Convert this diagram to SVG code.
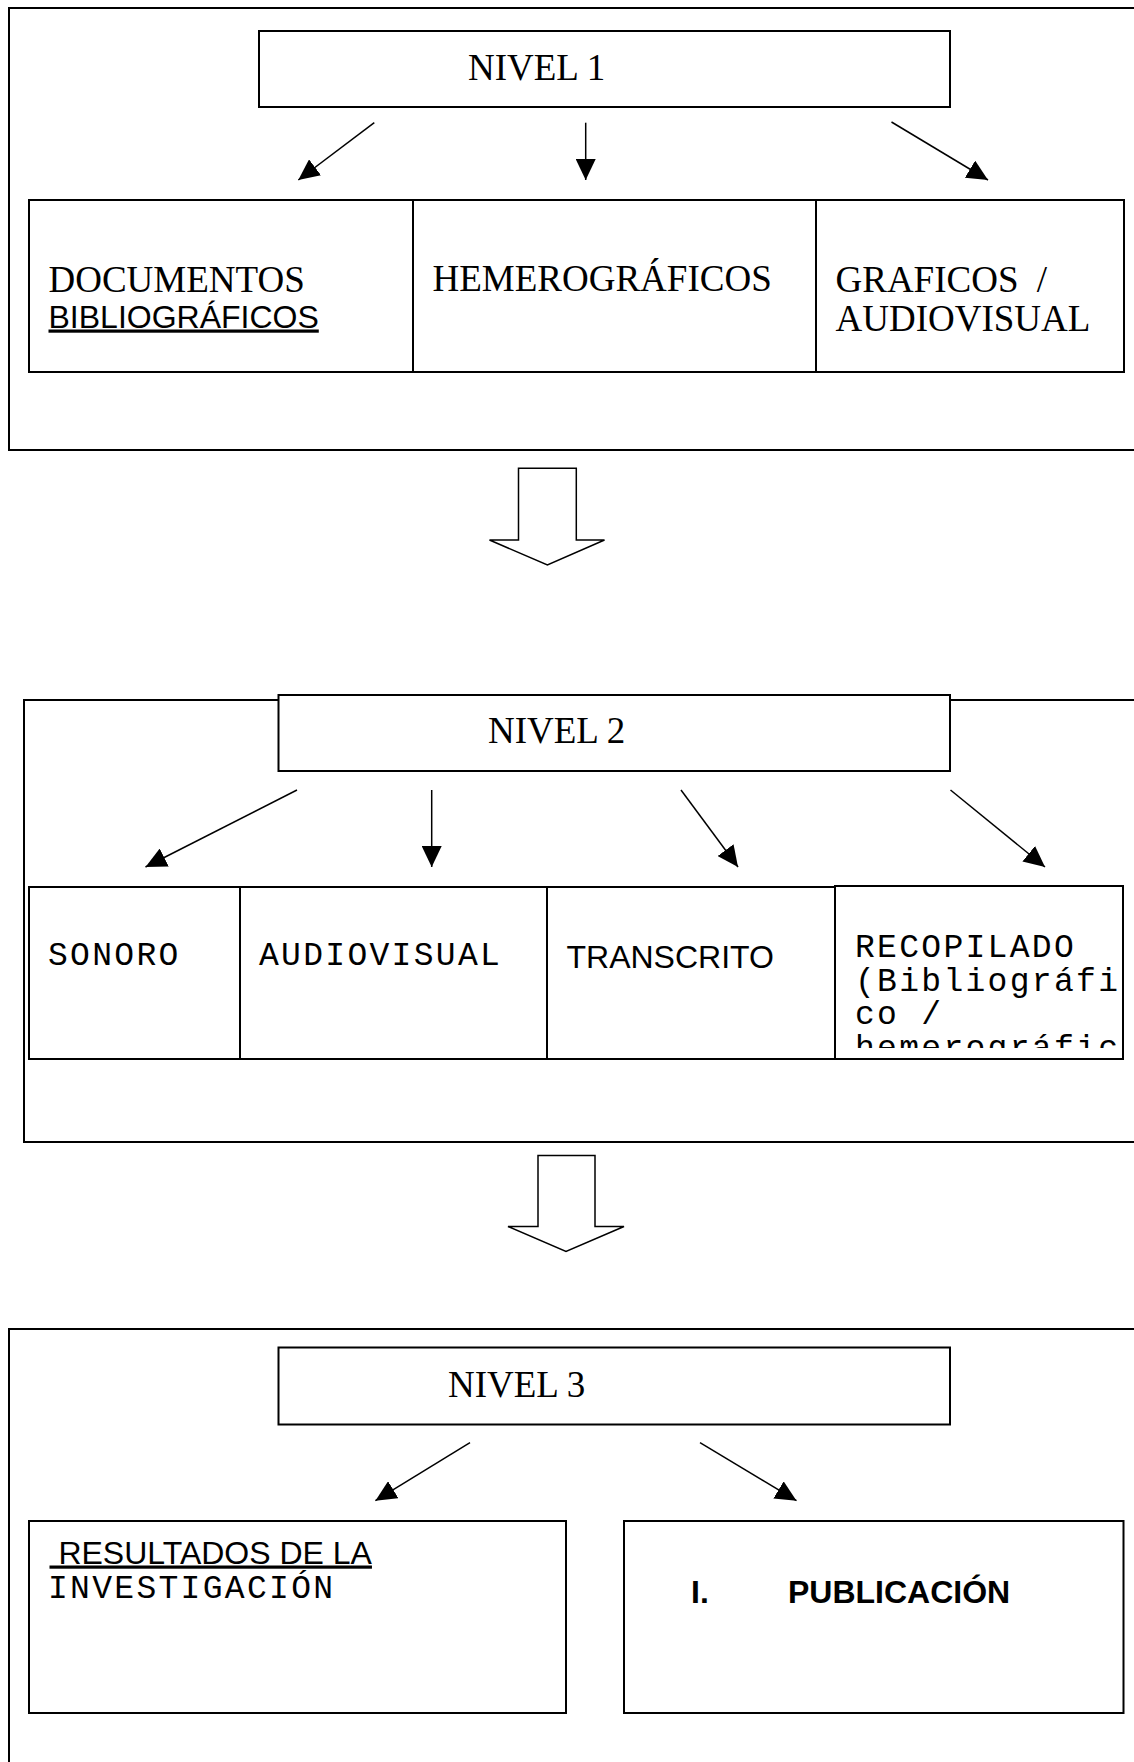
<svg xmlns="http://www.w3.org/2000/svg" width="1134" height="1762" viewBox="0 0 1134 1762">
<style>
  .panel { fill: none; stroke: #000; stroke-width: 2; }
  .box { fill: #fff; stroke: #000; stroke-width: 2; }
  .conn { stroke: #000; stroke-width: 1.5; fill: none; }
  .big { fill: #fff; stroke: #000; stroke-width: 1.5; stroke-linejoin: miter; }
  .serif { font-family: "Liberation Serif", "Times New Roman", serif; font-size: 37px; fill: #000; }
  .sans { font-family: "Liberation Sans", Arial, sans-serif; font-size: 32px; fill: #000; }
  .sansb { font-family: "Liberation Sans", Arial, sans-serif; font-size: 32px; font-weight: bold; fill: #000; }
  .mono { font-family: "Liberation Mono", "Courier New", monospace; font-size: 33px; letter-spacing: 2.3px; fill: #000; }
  .ul { text-decoration: underline; }
</style>
<defs>
  <marker id="ah" markerUnits="userSpaceOnUse" markerWidth="22" markerHeight="20" refX="21" refY="10" orient="auto" viewBox="0 0 22 20">
    <path d="M0,0 L21,10 L0,20 z" fill="#000"/>
  </marker>
  <clipPath id="clipRecop">
    <rect x="836" y="888" width="286" height="160"/>
  </clipPath>
</defs>
<rect width="1134" height="1762" fill="#fff"/>

<!-- Panels -->
<g id="panel1"><rect class="panel" x="9" y="8" width="1140" height="442"/></g>
<g id="panel2"><rect class="panel" x="24" y="700" width="1130" height="442"/></g>
<g id="panel3"><rect class="panel" x="9" y="1329" width="1140" height="460"/></g>

<!-- Level 1 -->
<g id="nivel1">
  <rect class="box" x="259" y="31" width="691" height="76"/>
  <text class="serif" x="468" y="80">NIVEL 1</text>
</g>
<g id="documentos">
  <rect class="box" x="29" y="200" width="384" height="172"/>
  <text class="serif" x="48.5" y="291.5">DOCUMENTOS</text>
  <text class="sans ul" x="48.5" y="327.5">BIBLIOGRÁFICOS</text>
</g>
<g id="hemerograficos">
  <rect class="box" x="413" y="200" width="403" height="172"/>
  <text class="serif" x="432.5" y="290.5">HEMEROGRÁFICOS</text>
</g>
<g id="graficos">
  <rect class="box" x="816" y="200" width="308" height="172"/>
  <text class="serif" x="835.5" y="291.5">GRAFICOS <tspan dx="9">/</tspan></text>
  <text class="serif" x="835.5" y="331">AUDIOVISUAL</text>
</g>

<!-- Level 2 -->
<g id="nivel2">
  <rect class="box" x="278.5" y="695" width="671.5" height="76"/>
  <text class="serif" x="488" y="743">NIVEL 2</text>
</g>
<g id="sonoro">
  <rect class="box" x="29" y="887" width="211" height="172"/>
  <text class="mono" x="48" y="965">SONORO</text>
</g>
<g id="audiovisual">
  <rect class="box" x="240" y="887" width="307" height="172"/>
  <text class="mono" x="259" y="965">AUDIOVISUAL</text>
</g>
<g id="transcrito">
  <rect class="box" x="547" y="887" width="288" height="172"/>
  <text class="sans" x="566.5" y="968">TRANSCRITO</text>
</g>
<g id="recopilado">
  <rect class="box" x="835" y="886" width="288" height="173"/>
  <g clip-path="url(#clipRecop)">
    <text class="mono" x="855" y="957">RECOPILADO</text>
    <text class="mono" x="855" y="990.5">(Bibliográfi</text>
    <text class="mono" x="855" y="1024">co /</text>
    <text class="mono" x="855" y="1057.5">hemerográfic</text>
  </g>
</g>

<!-- Level 3 -->
<g id="nivel3">
  <rect class="box" x="278.5" y="1347.5" width="671.5" height="77"/>
  <text class="serif" x="448" y="1396.5">NIVEL 3</text>
</g>
<g id="resultados">
  <rect class="box" x="29" y="1521" width="537" height="192"/>
  <text class="sans ul" x="49.5" y="1563.5" xml:space="preserve"> RESULTADOS DE LA</text>
  <text class="mono" x="48" y="1597.5">INVESTIGACIÓN</text>
</g>
<g id="publicacion">
  <rect class="box" x="624" y="1521" width="499.5" height="192"/>
  <text class="sansb" x="691" y="1603">I.<tspan x="788">PUBLICACIÓN</tspan></text>
</g>

<!-- Connectors -->
<g id="connectors">
  <line class="conn" x1="374.3" y1="122.7" x2="298.3" y2="180" marker-end="url(#ah)"/>
  <line class="conn" x1="585.7" y1="122.7" x2="585.7" y2="180" marker-end="url(#ah)"/>
  <line class="conn" x1="891.5" y1="122" x2="988" y2="180" marker-end="url(#ah)"/>

  <polygon class="big" points="518.5,468.3 576.3,468.3 576.3,540 604.5,540 547.4,565 489.5,540 518.5,540"/>

  <line class="conn" x1="297" y1="790" x2="145.5" y2="867" marker-end="url(#ah)"/>
  <line class="conn" x1="431.7" y1="790" x2="431.7" y2="867" marker-end="url(#ah)"/>
  <line class="conn" x1="681" y1="790" x2="738" y2="867" marker-end="url(#ah)"/>
  <line class="conn" x1="950.5" y1="790" x2="1045" y2="867" marker-end="url(#ah)"/>

  <polygon class="big" points="538,1155.5 595,1155.5 595,1226.5 624,1226.5 566,1251.5 508,1226.5 538,1226.5"/>

  <line class="conn" x1="470" y1="1442.7" x2="375.4" y2="1500.7" marker-end="url(#ah)"/>
  <line class="conn" x1="700" y1="1442.7" x2="796.5" y2="1500.7" marker-end="url(#ah)"/>
</g>
</svg>
